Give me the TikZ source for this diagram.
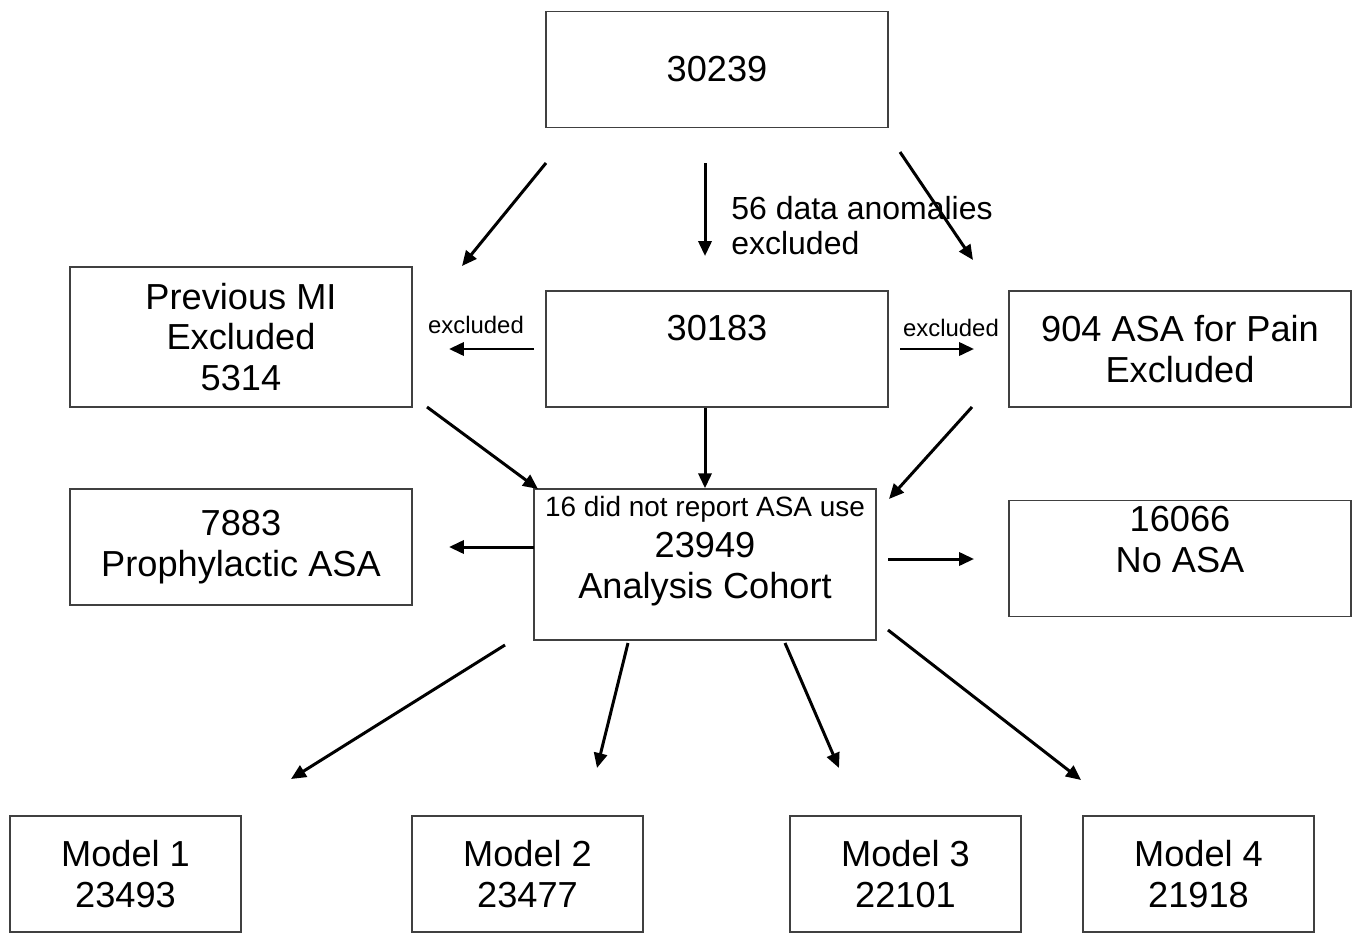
\documentclass[tikz,border=0pt]{standalone}
\usepackage{fontspec}
\setmainfont{Liberation Sans}
\usetikzlibrary{calc}
\usetikzlibrary{positioning}
\usetikzlibrary{arrows.meta}

\begin{document}
\begin{tikzpicture}[x=0.02cm, y=-0.02cm,
            box/.style={draw=black!75, line width=0.9pt, minimum width=6.84cm,
                minimum height=2.32cm, inner sep=0pt, align=center,
                font=\fontsize{20.6}{23.2}\selectfont},
            modelbox/.style={box, minimum width=4.62cm},
            arr/.style={-{Triangle[length=8.5pt,width=7.5pt]}, line width=1.7pt},
            note/.style={inner sep=0pt, font=\fontsize{13.6}{16}\selectfont}]
            \useasboundingbox (0,0) rectangle (1359,933);

            % Top row
            \node[box] (30239) at (717,69.5) {30239};
            \node[box, minimum height=2.8cm] (prevmi) at (241,337) {Previous MI\\Excluded\\5314};
            \node[box, text depth=23.8pt] (30183) at (717,349) {30183};
            \node[box] (pain) at (1180,349) {904 ASA for Pain\\Excluded};

            \node[anchor=west, align=left, inner sep=0pt,
                font=\fontsize{18.2}{19.8}\selectfont] (anom) at (731,225.5)
                {56 data anomalies\\excluded};
            \node[note] (exl) at (476,325) {excluded};
            \node[note] (exr) at (951,328) {excluded};

            % Middle row
            \node[box, minimum height=3.02cm, text depth=19.4pt] (cohort) at (705,564.5)
                {{\fontsize{15.9}{23.2}\selectfont 16 did not report ASA use}\\23949\\Analysis Cohort};
            \node[box] (prophy) at (241,547) {7883\\Prophylactic ASA};
            \node[box, text depth=21.6pt] (noasa) at (1180,558.5) {16066\\No ASA};

            % Bottom row
            \node[modelbox] (m1) at (125.5,874) {Model 1\\23493};
            \node[modelbox] (m2) at (527.5,874) {Model 2\\23477};
            \node[modelbox] (m3) at (905.5,874) {Model 3\\22101};
            \node[modelbox] (m4) at (1198.5,874) {Model 4\\21918};

            % Arrow ends
            \coordinate (a1) at (546,163);
            \coordinate (b1) at (462,266);
            \coordinate (a2) at (705,163);
            \coordinate (b2) at (705,256);
            \coordinate (a3) at (900,152);
            \coordinate (b3) at (973,260);
            \coordinate (a4) at (534,349);
            \coordinate (b4) at (449,349);
            \coordinate (a5) at (900,349);
            \coordinate (b5) at (974,349);
            \coordinate (a6) at (427,407);
            \coordinate (b6) at (538,489);
            \coordinate (a8) at (972,407);
            \coordinate (b8) at (889,499);
            \coordinate (a9) at (534,547);
            \coordinate (b9) at (449,547);
            \coordinate (a10) at (888,559);
            \coordinate (b10) at (974,559);
            \coordinate (a11) at (505,645);
            \coordinate (b11) at (291,779);
            \coordinate (a12) at (628,643);
            \coordinate (b12) at (597,768);
            \coordinate (a13) at (785,643);
            \coordinate (b13) at (839,768);
            \coordinate (a14) at (888,630);
            \coordinate (b14) at (1081,780);

            \draw[arr] (a1) -- (b1);
            \draw[arr] (a2) -- (b2);
            \draw[arr] (a3) -- (b3);
            \draw[arr] (a4) -- (b4);
            \draw[arr] (a5) -- (b5);
            \draw[arr] (a6) -- (b6);
            \draw[arr] (30183.south -| cohort.north) -- (cohort.north);
            \draw[arr] (a8) -- (b8);
            \draw[arr] (a9) -- (b9);
            \draw[arr] (a10) -- (b10);
            \draw[arr] (a11) -- (b11);
            \draw[arr] (a12) -- (b12);
            \draw[arr] (a13) -- (b13);
            \draw[arr] (a14) -- (b14);
        \end{tikzpicture}
\end{document}
